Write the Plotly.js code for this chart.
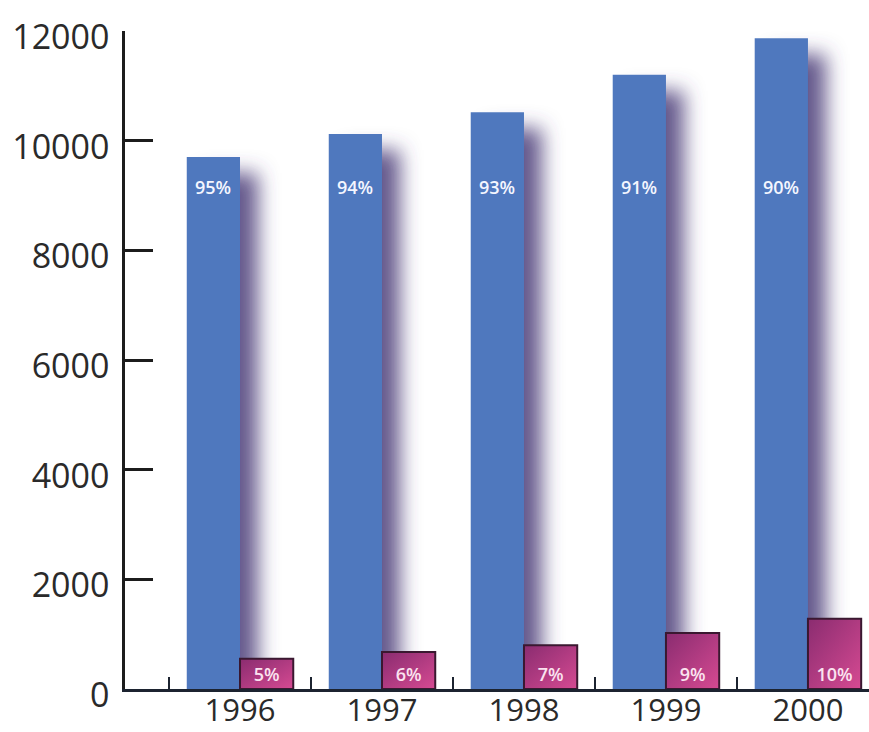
<!DOCTYPE html>
<html>
<head>
<meta charset="utf-8">
<script src="https://cdn.plot.ly/plotly-3.0.1.min.js"></script>
<style>
  html, body { margin: 0; padding: 0; background: #ffffff; }
  #chart { width: 869px; height: 732px; }
</style>
</head>
<body>
<div id="chart"></div>
<script>
// ---- data ----
const years = ['1996', '1997', '1998', '1999', '2000'];
const blueValues = [9700, 10120, 10520, 11200, 11870];
const magentaValues = [550, 675, 800, 1020, 1280];
const bluePct = ['95%', '94%', '93%', '91%', '90%'];
const magentaPct = ['5%', '6%', '7%', '9%', '10%'];
const yTicks = [0, 2000, 4000, 6000, 8000, 10000, 12000];

const fontFam = '"Open Sans", "DejaVu Sans", sans-serif';
const yTickFont = { family: fontFam, size: 34, color: '#2a2a2a' };
const xTickFont = { family: fontFam, size: 31, color: '#2a2a2a' };
const labelFont = { family: fontFam, size: 18, color: '#f4f6ff', weight: 600 };

const blueTrace = {
  type: 'bar',
  x: years,
  y: blueValues,
  marker: { color: '#4f78be', line: { width: 0 } },
  hoverinfo: 'skip'
};

const magentaTrace = {
  type: 'bar',
  x: years,
  y: magentaValues,
  text: magentaPct,
  textposition: 'inside',
  insidetextanchor: 'start',
  textangle: 0,
  constraintext: 'none',
  insidetextfont: { family: fontFam, size: 18, color: '#fbe3f0', weight: 600 },
  marker: { color: '#b33d84', line: { width: 2, color: '#3a1830' } },
  hoverinfo: 'skip'
};

const layout = {
  width: 869,
  height: 732,
  margin: { l: 125, r: 0, t: 31, b: 43 },
  paper_bgcolor: '#ffffff',
  plot_bgcolor: '#ffffff',
  barmode: 'group',
  bargap: 0.25,
  bargroupgap: 0,
  showlegend: false,
  xaxis: {
    type: 'category',
    range: [-0.81, 4.43],
    showline: true,
    linecolor: '#1c2330',
    linewidth: 3,
    ticks: 'inside',
    tickson: 'boundaries',
    ticklen: 12,
    tickwidth: 2,
    tickcolor: '#1c2330',
    tickfont: xTickFont,
    ticklabelstandoff: -8,
    showgrid: false,
    zeroline: false,
    fixedrange: true
  },
  yaxis: {
    range: [0, 12000],
    tickvals: yTicks,
    ticktext: yTicks.map(String),
    showline: true,
    linecolor: '#1c1c1c',
    linewidth: 2.5,
    ticks: 'inside',
    ticklen: 28,
    tickwidth: 2.5,
    tickcolor: '#1c1c1c',
    tickfont: yTickFont,
    ticklabelstandoff: 6,
    ticklabelshift: 6,
    showgrid: false,
    zeroline: false,
    fixedrange: true
  }
};

// blue percentage labels, at a common height inside the blue bars
layout.annotations = bluePct.map(function (t, i) {
  return {
    x: i, y: 9150, xref: 'x', yref: 'y',
    text: t, showarrow: false,
    xshift: -27, xanchor: 'center', yanchor: 'middle',
    font: labelFont
  };
});

Plotly.newPlot('chart', [blueTrace, magentaTrace], layout, { displayModeBar: false }).then(function (gd) {
  const svg = gd.querySelector('svg.main-svg');
  const ns = 'http://www.w3.org/2000/svg';
  let defs = svg.querySelector('defs');
  if (!defs) { defs = document.createElementNS(ns, 'defs'); svg.insertBefore(defs, svg.firstChild); }

  // soft shadow filter for the blue bars
  const filt = document.createElementNS(ns, 'filter');
  filt.setAttribute('id', 'barShadow');
  filt.setAttribute('x', '-30%'); filt.setAttribute('y', '-10%');
  filt.setAttribute('width', '220%'); filt.setAttribute('height', '130%');
  filt.innerHTML =
    '<feGaussianBlur in="SourceAlpha" stdDeviation="10" result="blur"/>' +
    '<feOffset in="blur" dx="18" dy="16" result="off"/>' +
    '<feFlood flood-color="#4a3c78" flood-opacity="0.85"/>' +
    '<feComposite in2="off" operator="in" result="shadow"/>' +
    '<feMerge><feMergeNode in="shadow"/><feMergeNode in="SourceGraphic"/></feMerge>';
  defs.appendChild(filt);

  // gradient for the magenta bars
  const grad = document.createElementNS(ns, 'linearGradient');
  grad.setAttribute('id', 'magGrad');
  grad.setAttribute('x1', '0'); grad.setAttribute('y1', '0');
  grad.setAttribute('x2', '1'); grad.setAttribute('y2', '1');
  grad.innerHTML =
    '<stop offset="0" stop-color="#8a2c70"/>' +
    '<stop offset="1" stop-color="#d64a92"/>';
  defs.appendChild(grad);

  const traces = gd.querySelectorAll('.barlayer .trace');
  if (traces[0]) traces[0].querySelectorAll('path').forEach(function (p) { p.setAttribute('filter', 'url(#barShadow)'); });
  if (traces[1]) traces[1].querySelectorAll('.point path').forEach(function (p) { p.style.fill = 'url(#magGrad)'; });
});
</script>
</body>
</html>
